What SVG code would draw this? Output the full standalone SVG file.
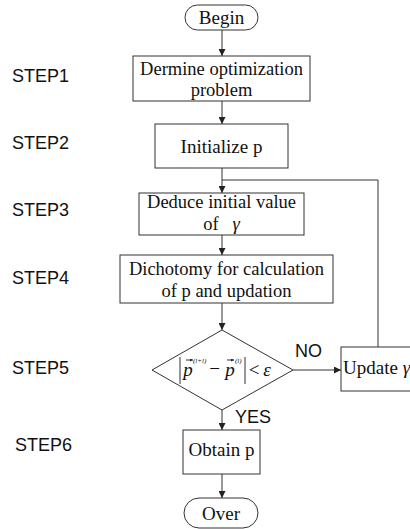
<svg xmlns="http://www.w3.org/2000/svg" width="410" height="529" viewBox="0 0 410 529">
<defs>
<style>
.box{fill:#fff;stroke:#333;stroke-width:1}
.t{font-family:"Liberation Serif","Times New Roman",serif;font-size:19px;fill:#111;text-anchor:middle}
.t2{font-size:18.5px}
.s{font-family:"Liberation Sans",Arial,sans-serif;font-size:18px;fill:#111}
.c{stroke:#333;stroke-width:1;fill:none}
.i{font-style:italic}
.sup{font-family:"Liberation Serif","Times New Roman",serif;font-size:7px;font-style:italic;fill:#111}
</style>
<marker id="ah" viewBox="0 0 8 8" refX="8" refY="4" markerWidth="7" markerHeight="7" markerUnits="userSpaceOnUse" orient="auto">
<path d="M0,0 L8,4 L0,8 z" fill="#222"/>
</marker>
<marker id="va" viewBox="0 0 4 4" refX="4" refY="2" markerWidth="3" markerHeight="3" markerUnits="userSpaceOnUse" orient="auto">
<path d="M0,0 L4,2 L0,4 z" fill="#222"/>
</marker>
</defs>
<rect width="410" height="529" fill="#fff"/>

<g id="steps" class="s">
<text x="12" y="82">STEP1</text>
<text x="12" y="149">STEP2</text>
<text x="12" y="216">STEP3</text>
<text x="12" y="284">STEP4</text>
<text x="12" y="374">STEP5</text>
<text x="15" y="451">STEP6</text>
</g>

<g id="connectors">
<line class="c" x1="222" y1="30" x2="222" y2="56" marker-end="url(#ah)"/>
<line class="c" x1="222" y1="101" x2="222" y2="124" marker-end="url(#ah)"/>
<line class="c" x1="222" y1="168" x2="222" y2="193" marker-end="url(#ah)"/>
<polyline class="c" points="378,347 378,180 222,180"/>
<line class="c" x1="222" y1="235" x2="222" y2="255" marker-end="url(#ah)"/>
<line class="c" x1="222" y1="303" x2="222" y2="330" marker-end="url(#ah)"/>
<line class="c" x1="293" y1="370" x2="341" y2="370" marker-end="url(#ah)"/>
<line class="c" x1="222" y1="410" x2="222" y2="430" marker-end="url(#ah)"/>
<line class="c" x1="222" y1="474" x2="222" y2="498" marker-end="url(#ah)"/>
<text class="s" x="295" y="357">NO</text>
<text class="s" x="235" y="423">YES</text>
</g>

<g id="begin">
<rect class="box" x="185" y="5" width="73" height="25" rx="12.5"/>
<text class="t" x="221.5" y="24">Begin</text>
</g>

<g id="step1">
<rect class="box" x="133" y="56" width="177" height="45"/>
<text class="t t2" x="221.5" y="75">Dermine optimization</text>
<text class="t t2" x="221.5" y="96">problem</text>
</g>

<g id="step2">
<rect class="box" x="155" y="124" width="133" height="44"/>
<text class="t" x="221.5" y="153">Initialize p</text>
</g>

<g id="step3">
<rect class="box" x="139" y="193" width="165" height="42"/>
<text class="t t2" x="221.5" y="208">Deduce initial value</text>
<text class="t t2" x="221.5" y="230" xml:space="preserve">of   <tspan class="i">γ</tspan></text>
</g>

<g id="step4">
<rect class="box" x="120" y="255" width="213" height="48"/>
<text class="t t2" x="226.5" y="275">Dichotomy for calculation</text>
<text class="t t2" x="226.5" y="297">of p and updation</text>
</g>

<g id="step5">
<polygon class="box" points="222,330 293,370 222,410 152,370"/>
<line class="c" x1="180" y1="357" x2="180" y2="384"/>
<line class="c" x1="245" y1="357" x2="245" y2="384"/>
<line class="c" x1="186" y1="360" x2="193" y2="360" marker-end="url(#va)"/>
<text class="t i" x="188" y="376">p</text>
<text class="sup" x="193" y="363">(l+l)</text>
<text class="t" x="214.5" y="375">−</text>
<line class="c" x1="227" y1="360" x2="234" y2="360" marker-end="url(#va)"/>
<text class="t i" x="230" y="376">p</text>
<text class="sup" x="235" y="363">(l)</text>
<text class="t" x="254" y="376">&lt;</text>
<text class="t i" x="267" y="376">ε</text>
</g>

<g id="update">
<rect class="box" x="341" y="347" width="80" height="44"/>
<text class="t" x="343" y="374" style="text-anchor:start">Update <tspan class="i">γ</tspan></text>
</g>

<g id="step6">
<rect class="box" x="183" y="430" width="77" height="44"/>
<text class="t" x="221.5" y="456">Obtain p</text>
</g>

<g id="over">
<rect class="box" x="184" y="498" width="74" height="30" rx="15"/>
<text class="t" x="221" y="520">Over</text>
</g>
</svg>
